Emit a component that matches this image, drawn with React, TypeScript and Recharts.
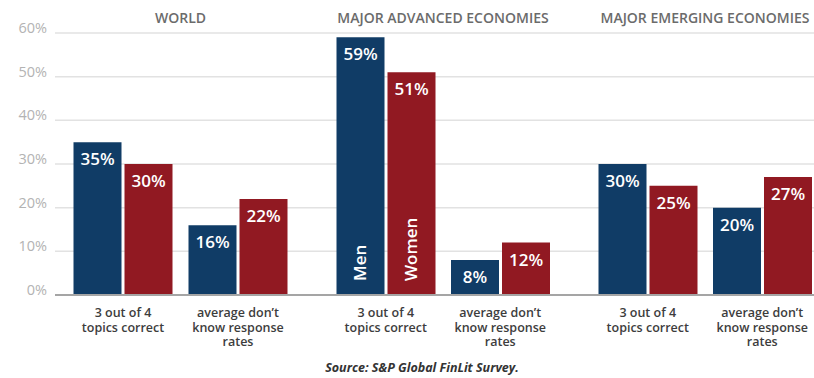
import React from "react";
import { BarChart, Bar, XAxis, YAxis, CartesianGrid, LabelList } from "recharts";

// Groups, categories and values
const groupTitles = ["WORLD", "MAJOR ADVANCED ECONOMIES", "MAJOR EMERGING ECONOMIES"];
const categories = ["3 out of 4\ntopics correct", "average don’t\nknow response\nrates"];
const menValues = [
  [35, 16],
  [59, 8],
  [30, 20],
];
const womenValues = [
  [30, 22],
  [51, 12],
  [25, 27],
];
const seriesNames = ["Men", "Women"];
const yTicks = [0, 10, 20, 30, 40, 50, 60];
const sourceText = "Source: S&P Global FinLit Survey.";

const NAVY = "#103c66";
const RED = "#911922";
const FONT = "'Open Sans', 'Noto Sans', sans-serif";

// layout of the three panels (left, width, axis padding)
const panels = [
  { left: 0, width: 312, yAxis: 55, pad: { left: 10.5, right: 16.5 } },
  { left: 312, width: 262, yAxis: 0, pad: { left: 16.5, right: 16.5 } },
  { left: 574, width: 262, yAxis: 0, pad: { left: 16.5, right: 16.5 } },
];

const TOP = 33;
const CHART_H = 350;
const XAXIS_H = 55;

const XTick = (props: any) => {
  const { x, y, payload } = props;
  const lines = String(payload.value).split("\n");
  return (
    <g>
      {lines.map((l, i) => (
        <text
          key={i}
          x={x}
          y={y + 22 + i * 14.5}
          textAnchor="middle"
          fill="#3d3d3d"
          fontSize={12.5}
          fontWeight={600}
          fontFamily={FONT}
        >
          {l}
        </text>
      ))}
    </g>
  );
};

const YTick = (props: any) => {
  const { x, y, payload } = props;
  return (
    <text x={x} y={y - 5} dy="0.35em" textAnchor="end" fill="#b3b3b3" fontSize={14.5} fontFamily={FONT}>
      {payload.value}%
    </text>
  );
};

const valueLabel = (props: any) => {
  const { x, y, width, value } = props;
  return (
    <text x={x + width / 2} y={y + 23} textAnchor="middle" fill="#ffffff" fontSize={17} fontWeight={600} fontFamily={FONT}>
      {value}%
    </text>
  );
};

const nameLabel = (name: string, show: (i: number) => boolean) => (props: any) => {
  const { x, y, width, height, index } = props;
  if (!show(index)) return null;
  const cx = x + width / 2 + 5;
  const cy = y + height - 14;
  return (
    <text
      x={cx}
      y={cy}
      transform={`rotate(-90 ${cx} ${cy})`}
      textAnchor="start"
      fill="#ffffff"
      fontSize={17}
      fontWeight={600}
      fontFamily={FONT}
    >
      {name}
    </text>
  );
};

export default function App() {
  return (
    <div style={{ position: "absolute", left: 0, top: 0, width: 814, height: 378, overflow: "hidden", background: "#fff", fontFamily: FONT }}>
      {panels.map((p, g) => {
        const data = categories.map((c, i) => ({ cat: c, men: menValues[g][i], women: womenValues[g][i] }));
        const bandLeft = p.left + p.yAxis + p.pad.left;
        const bandRight = p.left + p.width - p.pad.right;
        return (
          <React.Fragment key={g}>
            <div
              style={{
                position: "absolute",
                left: bandLeft - 40,
                width: bandRight - bandLeft + 80,
                top: 8,
                textAlign: "center",
                fontSize: 14,
                fontWeight: 600,
                color: "#6b6b6b",
                whiteSpace: "nowrap",
              }}
            >
              {groupTitles[g]}
            </div>
            <div style={{ position: "absolute", left: p.left, top: 0 }}>
              <BarChart
                width={p.width}
                height={CHART_H}
                data={data}
                margin={{ top: TOP, right: 0, bottom: 0, left: 0 }}
                barGap={3}
                barSize={48}
              >
                <CartesianGrid vertical={false} stroke="#e2e2e2" strokeWidth={1.5} />
                <XAxis
                  dataKey="cat"
                  interval={0}
                  height={XAXIS_H}
                  padding={p.pad}
                  axisLine={{ stroke: "#a5a5a5", strokeWidth: 2 }}
                  tickLine={false}
                  tickSize={0}
                  tickMargin={0}
                  tick={<XTick />}
                />
                <YAxis
                  hide={p.yAxis === 0}
                  width={p.yAxis}
                  domain={[0, 60]}
                  ticks={yTicks}
                  axisLine={false}
                  tickLine={false}
                  tick={<YTick />}
                />
                <Bar dataKey="men" fill={NAVY} isAnimationActive={false}>
                  <LabelList dataKey="men" content={valueLabel} />
                  <LabelList dataKey="men" content={nameLabel(seriesNames[0], (i) => g === 1 && i === 0)} />
                </Bar>
                <Bar dataKey="women" fill={RED} isAnimationActive={false}>
                  <LabelList dataKey="women" content={valueLabel} />
                  <LabelList dataKey="women" content={nameLabel(seriesNames[1], (i) => g === 1 && i === 0)} />
                </Bar>
              </BarChart>
            </div>
          </React.Fragment>
        );
      })}
      <div
        style={{
          position: "absolute",
          left: 222,
          width: 400,
          top: 359,
          textAlign: "center",
          fontSize: 12.5,
          fontWeight: 700,
          fontStyle: "italic",
          color: "#333",
        }}
      >
        {sourceText}
      </div>
    </div>
  );
}
